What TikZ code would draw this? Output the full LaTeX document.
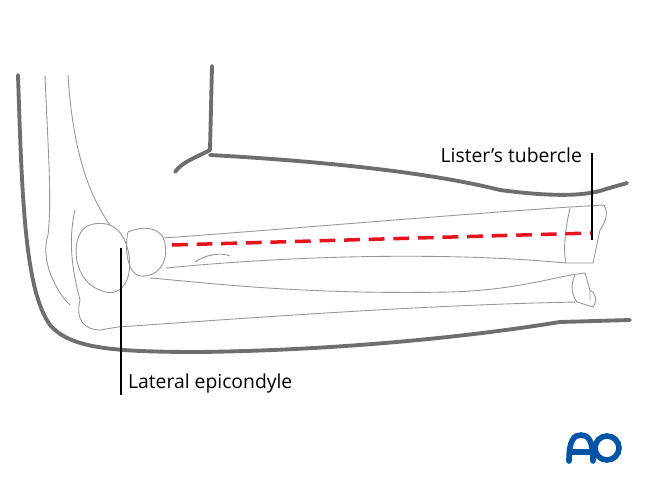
\documentclass[tikz,border=0pt]{standalone}
\usepackage{fontspec}
\setmainfont{Open Sans}
\definecolor{skin}{RGB}{110,110,110}
\definecolor{bone}{RGB}{150,150,150}
\definecolor{aoblue}{RGB}{0,84,166}
\definecolor{lred}{RGB}{230,20,30}
\tikzstyle{outline} = [line width=2.2pt, color=skin, line cap=round, line join=round]
\tikzstyle{boneline} = [line width=0.5pt, color=bone]
\tikzstyle{leader} = [line width=0.6pt, color=black]
\tikzstyle{label} = [font=\fontsize{11}{13}\selectfont, inner sep=1pt]
\tikzstyle{logo} = [line width=3.2pt, color=aoblue, line cap=round]
\begin{document}
\begin{tikzpicture}[x=0.02cm, y=-0.02cm]
\useasboundingbox (0,0) rectangle (665,493);

% arm outline
\draw[outline] (18,75) .. controls (22,200) and (25,290) .. (50,325)
  .. controls (70,348) and (110,352) .. (200,352)
  .. controls (350,350) and (480,335) .. (560,322) -- (630,320);
\draw[outline] (212,66) -- (210,150) .. controls (195,158) and (182,162) .. (175,172);
\draw[outline] (210,155) .. controls (300,160) and (420,170) .. (500,190)
  .. controls (560,198) and (590,195) .. (606,189) -- (627,183);

% humerus
\draw[boneline] (45,75) .. controls (48,150) and (52,200) .. (48,235);
\draw[boneline] (68,75) .. controls (72,140) and (85,190) .. (110,225);
\draw[boneline] (75,210) .. controls (68,240) and (72,270) .. (80,300);
\draw[boneline] (48,235) .. controls (40,260) and (55,290) .. (70,305);
\draw[boneline] (90,225) .. controls (70,230) and (70,280) .. (100,290)
  .. controls (120,300) and (135,280) .. (128,250) .. controls (122,225) and (105,220) .. (90,225);
\draw[boneline] (80,300) .. controls (75,320) and (85,330) .. (100,330) -- (118,327);
% radial head
\draw[boneline] (128,232) .. controls (145,225) and (160,228) .. (164,240)
  .. controls (170,258) and (160,278) .. (140,276) .. controls (128,274) and (124,250) .. (128,232);
% radius
\draw[boneline] (164,238) .. controls (300,228) and (450,215) .. (570,207) -- (604,205)
  .. controls (608,212) and (607,220) .. (600,230) -- (593,263);
\draw[boneline] (166,268) .. controls (300,255) and (450,252) .. (566,263) -- (593,263);
\draw[boneline] (570,208) .. controls (565,230) and (563,250) .. (566,263);
\draw[boneline] (195,262) .. controls (205,255) and (220,252) .. (230,256);
% ulna
\draw[boneline] (150,278) .. controls (200,282) and (300,295) .. (450,292)
  .. controls (520,290) and (560,275) .. (585,273) -- (590,290) -- (590,300);
\draw[boneline] (118,327) .. controls (250,318) and (420,305) .. (577,302) -- (593,307)
  .. controls (598,300) and (595,292) .. (590,290);
\draw[boneline] (575,275) .. controls (570,285) and (572,295) .. (577,302);

% line
\draw[line width=2pt, color=lred, dash pattern=on 9pt off 5pt] (172,245) -- (592,233);

% labels
\node[label, anchor=south east] (lister) at (584,165) {Lister’s tubercle};
\coordinate (listertop) at (592,153);
\coordinate (listerpt) at (592,240);
\draw[leader] (listertop) -- (listerpt);
\node[label, anchor=west] (lateral) at (126,383) {Lateral epicondyle};
\coordinate (latpt) at (121,248);
\draw[leader] (latpt) -- (latpt |- lateral.south);

% logo
\draw[logo] (569,461) .. controls (569,440) and (574,435) .. (581,435)
  .. controls (588,435) and (593,440) .. (593,461);
\draw[logo] (571,452) -- (591,452);
\draw[logo] (607,448) circle (12);
\end{tikzpicture}
\end{document}
